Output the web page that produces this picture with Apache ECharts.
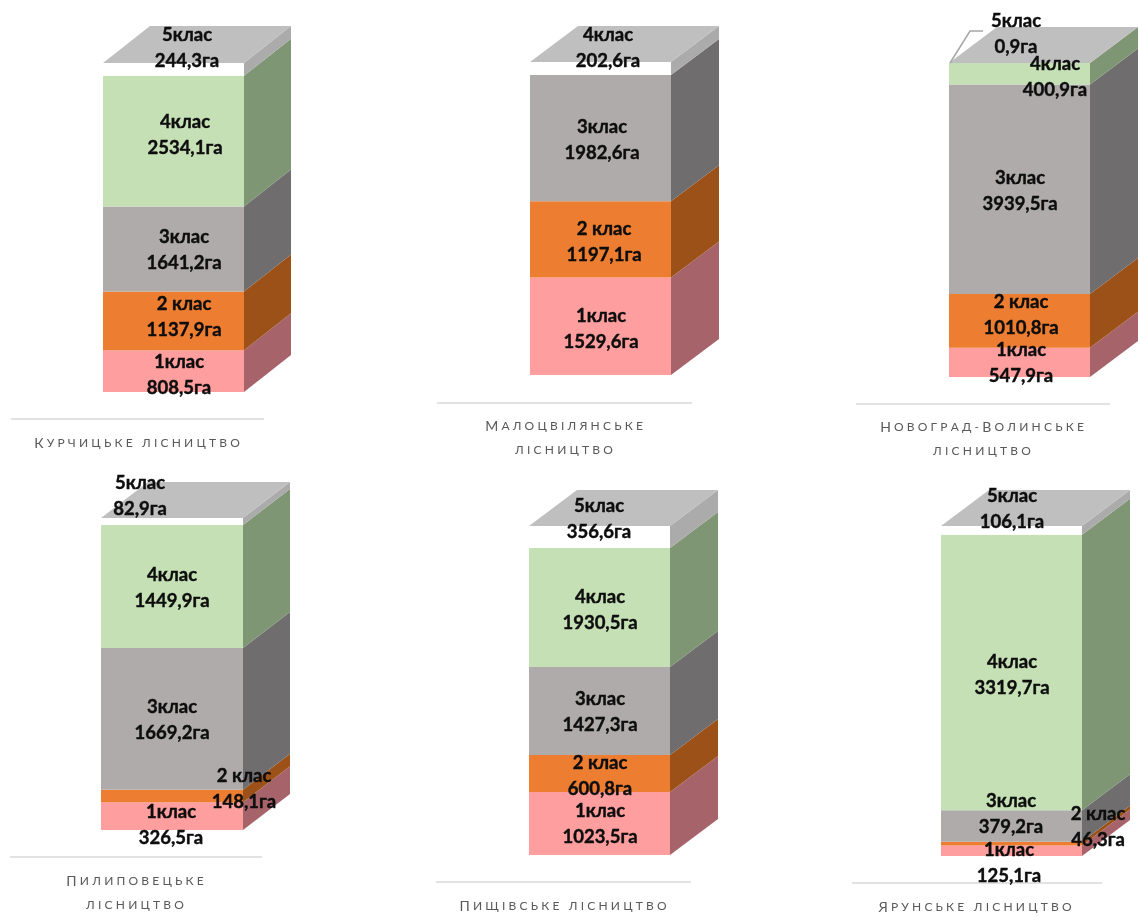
<!DOCTYPE html>
<html lang="uk">
<head>
<meta charset="utf-8">
<title>Розподіл площ за класами</title>
<style>html,body{margin:0;padding:0;background:#fff}#chart{width:1139px;height:917px}</style>
<script src="https://cdn.jsdelivr.net/npm/echarts@6/dist/echarts.min.js"></script>
</head>
<body>
<div id="chart"></div>
<script>
// Площі за класами, га (знизу вгору)
const kurchytskeValues = [808.5, 1137.9, 1641.2, 2534.1, 244.3];
const malotsvilianskeValues = [1529.6, 1197.1, 1982.6, 202.6];
const novohradValues = [547.9, 1010.8, 3939.5, 400.9, 0.9];
const pylypovetskeValues = [326.5, 148.1, 1669.2, 1449.9, 82.9];
const pyshchivskeValues = [1023.5, 600.8, 1427.3, 1930.5, 356.6];
const yarunskeValues = [125.1, 46.3, 379.2, 3319.7, 106.1];
const classNames = ['1клас', '2 клас', '3клас', '4клас', '5клас'];

// Кольори граней: фронт, бік
const faceColors = ['#FF9E9E', '#ED7D31', '#AFABAB', '#C5E0B4', '#FFFFFF'];
const sideColors = ['#A6646A', '#9C5119', '#6F6D6E', '#7F9674', '#ABABAB'];
const topColor = '#BFBFBF';

// Розкладка панелей: x, низ, верх, ширина фронту, глибина, порядок кольорів, центри підписів
const panels = [
  { title: ['Курчицьке лісництво'], values: kurchytskeValues, x: 103, w: 141, top: 63, bottom: 392, dx: 47, dy: 37,
    colors: [0, 1, 2, 3, 4],
    labels: [[179, 361], [184, 303], [184, 236], [185, 121], [187, 34]],
    rule: [11, 264, 419], titleAt: [137, 443] },
  { title: ['Малоцвілянське', 'лісництво'], values: malotsvilianskeValues, x: 530, w: 141, top: 62, bottom: 375, dx: 48, dy: 36,
    colors: [0, 1, 2, 4],
    labels: [[601, 315], [604, 228], [602, 126], [608, 34]],
    rule: [437, 692, 403], titleAt: [564, 426] },
  { title: ['Новоград-Волинське', 'лісництво'], values: novohradValues, x: 949, w: 141, top: 63, bottom: 377, dx: 48, dy: 36,
    colors: [0, 1, 2, 3, 4],
    labels: [[1021, 349], [1021, 301], [1020, 177], [1055, 63], [1016, 20]],
    rule: [856, 1110, 404], titleAt: [982, 427], leader: [21, -32, 34] },
  { title: ['Пилиповецьке', 'лісництво'], values: pylypovetskeValues, x: 101, w: 142, top: 518, bottom: 830, dx: 47, dy: 36,
    colors: [0, 1, 2, 3, 4],
    labels: [[171, 811], [244, 775], [172, 706], [172, 574], [140, 482]],
    rule: [10, 262, 857], titleAt: [135, 881] },
  { title: ['Пищівське лісництво'], values: pyshchivskeValues, x: 529, w: 141, top: 526, bottom: 855, dx: 48, dy: 36,
    colors: [0, 1, 2, 3, 4],
    labels: [[600, 810], [600, 762], [600, 698], [600, 596], [599, 505]],
    rule: [436, 691, 882], titleAt: [563, 906] },
  { title: ['Ярунське лісництво'], values: yarunskeValues, x: 941, w: 141, top: 526, bottom: 856, dx: 48, dy: 36,
    colors: [0, 1, 2, 3, 4],
    labels: [[1009, 849], [1098, 813], [1011, 800], [1012, 661], [1012, 495]],
    rule: [852, 1102, 883], titleAt: [975, 907] }
];

const LABEL_FONT = 'Lato, "Open Sans", sans-serif';
const LINE_GAP = 26;
const LABEL_SHIFT = 1;

const sum = arr => arr.reduce((a, b) => a + b, 0);
const formatArea = v => v.toFixed(1).replace('.', ',') + 'га';

// Капітель із розрядкою: великі літери рядка — більшим кеглем, решта — меншим
function titleText(line) {
  return Array.from(line).map(ch => {
    const isCap = ch !== ch.toLowerCase();
    return '{' + (isCap ? 'cap' : 'low') + '|' + ch.toUpperCase() + '}';
  }).join('{gap|\u2009}');
}

function segmentsOf(panel) {
  let acc = 0;
  return panel.values.map((v, i) => {
    const seg = [0, acc, acc + v, i];
    acc += v;
    return seg;
  });
}

const renderBox = panel => (params, api) => {
  const start = api.value(1), end = api.value(2), idx = api.value(3);
  const lo = api.coord([0, start]);
  const hi = api.coord([0, end]);
  const width = api.size([1, 0])[0];
  const x0 = lo[0] - width / 2, x1 = lo[0] + width / 2;
  const colorIdx = panel.colors[idx];
  const children = [
    { type: 'polygon', z2: 1,
      shape: { points: [[x1, lo[1]], [x1 + panel.dx, lo[1] - panel.dy], [x1 + panel.dx, hi[1] - panel.dy], [x1, hi[1]]] },
      style: { fill: sideColors[colorIdx] } },
    { type: 'rect', z2: 2,
      shape: { x: x0, y: hi[1], width: width, height: lo[1] - hi[1] },
      style: { fill: faceColors[colorIdx] } }
  ];
  if (idx === panel.values.length - 1) {
    children.push({ type: 'polygon', z2: 3,
      shape: { points: [[x0, hi[1]], [x0 + panel.dx, hi[1] - panel.dy], [x1 + panel.dx, hi[1] - panel.dy], [x1, hi[1]]] },
      style: { fill: topColor } });
    if (panel.leader) {
      children.push({ type: 'polyline', z2: 4,
        shape: { points: [[x0 + 1, hi[1]], [x0 + panel.leader[0], hi[1] + panel.leader[1]], [x0 + panel.leader[2], hi[1] + panel.leader[1]]] },
        style: { fill: null, stroke: '#A6A6A6', lineWidth: 1.5 } });
    }
  }
  const at = panel.labels[idx];
  [classNames[idx], formatArea(panel.values[idx])].forEach((line, n) => {
    children.push({ type: 'text', z2: 10,
      style: { text: line, x: at[0], y: at[1] + LABEL_SHIFT + n * LINE_GAP, align: 'center', verticalAlign: 'middle',
        font: 'bold 18.5px ' + LABEL_FONT, fill: '#0d0d0d', stroke: '#0d0d0d', lineWidth: 0.4 } });
  });
  return { type: 'group', children };
};

const titleFont = 'Lato, "Open Sans", sans-serif';
const graphics = [];
panels.forEach(p => {
  graphics.push({ type: 'line', silent: true,
    shape: { x1: p.rule[0], y1: p.rule[2], x2: p.rule[1], y2: p.rule[2] },
    style: { stroke: '#D9D9D9', lineWidth: 1.5 } });
  p.title.forEach((line, n) => {
    graphics.push({ type: 'text', silent: true,
      style: { text: titleText(line), x: p.titleAt[0], y: p.titleAt[1] + n * 24,
        align: 'center', verticalAlign: 'middle', fill: '#595959',
        rich: {
          cap: { font: '14px ' + titleFont, fill: '#595959' },
          low: { font: '12px ' + titleFont, fill: '#595959' },
          gap: { font: '12px ' + titleFont, fill: '#595959', width: 3.2 }
        } } });
  });
});

const option = {
  animation: false,
  backgroundColor: '#fff',
  grid: panels.map(p => ({ left: p.x, top: p.top, width: p.w, height: p.bottom - p.top, containLabel: false })),
  xAxis: panels.map((p, i) => ({ type: 'category', gridIndex: i, data: ['площа'], show: false, boundaryGap: true })),
  yAxis: panels.map((p, i) => ({ type: 'value', gridIndex: i, min: 0, max: sum(p.values), show: false })),
  series: panels.map((p, i) => ({
    type: 'custom',
    name: p.title.join(' '),
    xAxisIndex: i,
    yAxisIndex: i,
    clip: false,
    silent: true,
    encode: { x: 0, y: [1, 2] },
    data: segmentsOf(p),
    renderItem: renderBox(p)
  })),
  graphic: graphics
};

echarts.init(document.getElementById('chart'), null, { renderer: 'canvas' }).setOption(option);
</script>
</body>
</html>
